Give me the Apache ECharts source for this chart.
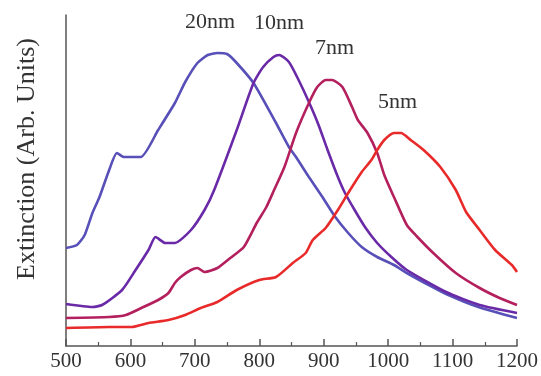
<!DOCTYPE html>
<html>
<head>
<meta charset="utf-8">
<script src="https://cdn.jsdelivr.net/npm/echarts@6/dist/echarts.min.js"></script>
<style>
  html, body { margin: 0; padding: 0; background: #fff; }
  #chart { width: 541px; height: 376px; }
</style>
</head>
<body>
<div id="chart"></div>
<script>
// wavelength (nm) / extinction (arb. units)
const wl20 = [500, 517, 529, 541, 552, 567, 579, 590, 616, 643, 669, 685, 704, 720, 735, 750, 765, 791, 826, 846, 857, 877, 898, 918, 938, 959, 983, 1009, 1029, 1060, 1090, 1140, 1200];
const ext20 = [98, 101, 111, 133, 149, 176, 193, 189, 189, 216, 243, 264, 283, 291, 293, 292, 283, 263, 223, 199, 189, 169, 149, 129, 113, 99, 89, 81, 73, 62, 52, 39, 28];

const wl10 = [500, 541, 556, 587, 608, 628, 639, 654, 669, 694, 715, 730, 765, 791, 806, 822, 831, 846, 861, 877, 892, 906, 922, 933, 948, 964, 983, 1005, 1029, 1090, 1142, 1200];
const ext10 = [42, 39, 41, 56, 76, 96, 109, 103, 103, 116, 136, 156, 216, 263, 279, 289, 291, 284, 266, 244, 221, 196, 169, 153, 136, 119, 103, 89, 76, 54, 41, 33];

const wl7 = [500, 567, 593, 617, 643, 659, 669, 678, 694, 704, 715, 735, 755, 776, 796, 811, 823, 839, 857, 877, 890, 903, 913, 929, 944, 953, 968, 983, 994, 1009, 1029, 1044, 1070, 1105, 1142, 1173, 1200];
const ext7 = [28, 29, 31, 38, 46, 53, 63, 69, 76, 78, 74, 78, 88, 99, 123, 139, 156, 179, 213, 243, 259, 266, 266, 259, 239, 226, 213, 193, 171, 149, 121, 110, 93, 73, 58, 48, 41];

const wl5 = [500, 567, 602, 628, 659, 685, 709, 735, 765, 800, 826, 852, 872, 883, 903, 922, 938, 959, 974, 983, 994, 1009, 1020, 1035, 1055, 1081, 1105, 1121, 1142, 1166, 1192, 1200];
const ext5 = [18, 19, 19, 23, 26, 31, 38, 44, 56, 66, 69, 83, 93, 106, 118, 136, 153, 174, 186, 196, 206, 213, 213, 206, 196, 179, 156, 134, 116, 96, 81, 74];

const xTicks = [500, 600, 700, 800, 900, 1000, 1100, 1200];
const sizeNames = ['20nm', '10nm', '7nm', '5nm'];

const serif = "'Liberation Serif', 'Times New Roman', Times, serif";
const textColor = '#333';

const pairs = (xs, ys) => xs.map((x, i) => [x, ys[i]]);

const lineBase = {
  type: 'line',
  showSymbol: false,
  smooth: 0.2,
  animation: false,
};

// 曲线旁的尺寸标注
const textItem = (text, x, y) => ({
  type: 'text', x, y,
  style: { text, fontFamily: serif, fontSize: 22, fill: textColor, verticalAlign: 'middle' },
});

const chart = echarts.init(document.getElementById('chart'), null, { renderer: 'canvas' });

chart.setOption({
  backgroundColor: '#fff',
  grid: { left: 66, right: 16, top: 15, bottom: 30 },
  xAxis: {
    type: 'value',
    min: xTicks[0],
    max: xTicks[xTicks.length - 1],
    interval: 100,
    axisLine: { lineStyle: { color: '#555', width: 1.5 } },
    axisTick: { inside: true, length: 7, lineStyle: { color: '#555', width: 1.5 } },
    minorTick: { show: true, splitNumber: 2, length: 4, lineStyle: { color: '#555', width: 1.2 } },
    axisLabel: {
      fontFamily: serif, fontSize: 21, color: textColor, margin: 5,
      formatter: (v) => String(v),
    },
    splitLine: { show: false },
  },
  yAxis: {
    type: 'value',
    min: 0,
    max: 331,
    axisLine: { show: true, lineStyle: { color: '#555', width: 1.5 } },
    axisTick: { show: false },
    axisLabel: { show: false },
    splitLine: { show: false },
  },
  series: [
    { ...lineBase, name: sizeNames[0], data: pairs(wl20, ext20), lineStyle: { color: '#5850b8', width: 2.6 } },
    { ...lineBase, name: sizeNames[1], data: pairs(wl10, ext10), lineStyle: { color: '#6a2aa8', width: 2.6 } },
    { ...lineBase, name: sizeNames[2], data: pairs(wl7, ext7), lineStyle: { color: '#b4205e', width: 2.6 } },
    { ...lineBase, name: sizeNames[3], data: pairs(wl5, ext5), lineStyle: { color: '#e82a2a', width: 2.6 } },
  ],
  graphic: [
    {
      type: 'text', x: 27, y: 159, rotation: Math.PI / 2,
      style: {
        text: 'Extinction (Arb. Units)', fontFamily: serif, fontSize: 26,
        fill: textColor, align: 'center', verticalAlign: 'middle',
      },
    },
    textItem(sizeNames[0], 185, 22),
    textItem(sizeNames[1], 254, 23),
    textItem(sizeNames[2], 315, 48),
    textItem(sizeNames[3], 378, 102),
  ],
});
</script>
</body>
</html>
